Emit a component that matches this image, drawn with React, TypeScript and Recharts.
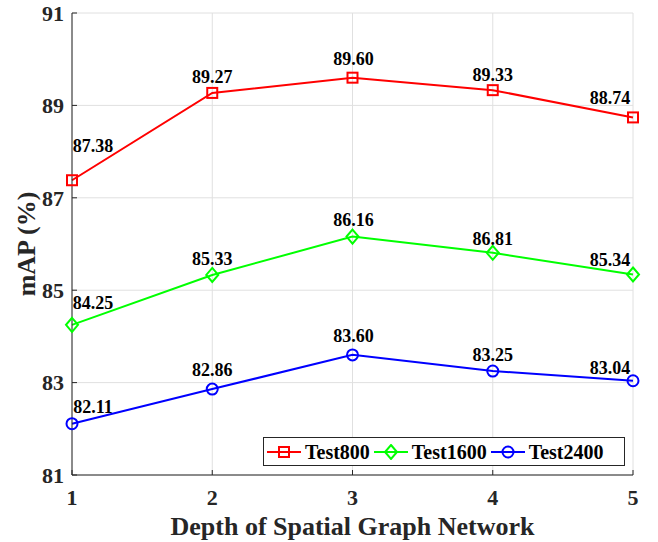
import React from 'react';
import { LineChart, Line, XAxis, YAxis, CartesianGrid, Legend, LabelList, Label } from 'recharts';

const depths = [1, 2, 3, 4, 5];
const test800 = [87.38, 89.27, 89.6, 89.33, 88.74];
const test1600 = [84.25, 85.33, 86.16, 85.81, 85.34];
const test2400 = [82.11, 82.86, 83.6, 83.25, 83.04];
const test800Labels = ['87.38', '89.27', '89.60', '89.33', '88.74'];
const test1600Labels = ['84.25', '85.33', '86.16', '86.81', '85.34'];
const test2400Labels = ['82.11', '82.86', '83.60', '83.25', '83.04'];
const yTicks = [81, 83, 85, 87, 89, 91];
const seriesNames = ['Test800', 'Test1600', 'Test2400'];
const xTitle = 'Depth of Spatial Graph Network';
const yTitle = 'mAP (%)';

const data = depths.map((d, i) => ({
  depth: d,
  t800: test800[i],
  t1600: test1600[i],
  t2400: test2400[i],
}));

const FONT = "'Liberation Serif', 'Times New Roman', serif";
const AXIS = '#262626';
const RED = '#ff0000';
const GREEN = '#00ff00';
const BLUE = '#0000ff';

// label vertical offsets (center relative to point) per series / point
const dy800 = [-34, -16, -19, -15, -19];
const dy1600 = [-22, -16, -17, -14, -14];
const dy2400 = [-17, -19, -19, -16, -13];
const dxByIndex = [21, 0, 1, 0, -23];

const Marker = ({ kind, cx, cy, color }: any) => {
  if (kind === 'square')
    return <rect x={cx - 5} y={cy - 5} width={10} height={10} fill="none" stroke={color} strokeWidth={2} />;
  if (kind === 'diamond')
    return (
      <polygon
        points={`${cx},${cy - 7} ${cx + 6},${cy} ${cx},${cy + 7} ${cx - 6},${cy}`}
        fill="none"
        stroke={color}
        strokeWidth={2}
      />
    );
  return <circle cx={cx} cy={cy} r={5.5} fill="none" stroke={color} strokeWidth={2} />;
};

const makeDot = (kind: string, color: string) => (props: any) => (
  <g key={`dot-${kind}-${props.index}`}>
    <Marker kind={kind} cx={props.cx} cy={props.cy} color={color} />
  </g>
);

const makeLabel = (labels: string[], dys: number[]) => (props: any) => {
  const vb = props.viewBox || {};
  const px = props.x ?? vb.x;
  const py = props.y ?? vb.y;
  const i = props.index;
  if (px == null || py == null) return null;
  return (
    <text
      key={`lbl-${i}-${labels[i]}`}
      x={px + dxByIndex[i]}
      y={py + dys[i] + 6}
      textAnchor="middle"
      fontFamily={FONT}
      fontWeight="bold"
      fontSize={18}
      fill="#000"
    >
      {labels[i]}
    </text>
  );
};

const legendItems = [
  { name: seriesNames[0], color: RED, kind: 'square' },
  { name: seriesNames[1], color: GREEN, kind: 'diamond' },
  { name: seriesNames[2], color: BLUE, kind: 'circle' },
];

const renderLegend = () => (
  <div
    style={{
      boxSizing: 'border-box',
      width: 362,
      height: 29,
      border: `1px solid ${AXIS}`,
      background: '#fff',
      display: 'flex',
      alignItems: 'center',
      paddingLeft: 3,
      fontFamily: FONT,
      fontWeight: 'bold',
      fontSize: 20,
      color: '#000',
    }}
  >
    {legendItems.map((it) => (
      <div key={it.name} style={{ display: 'flex', alignItems: 'center', marginRight: 4 }}>
        <svg width={34} height={16} style={{ display: 'block' }}>
          <line x1={0} y1={8} x2={34} y2={8} stroke={it.color} strokeWidth={2} />
          <Marker kind={it.kind} cx={17} cy={8} color={it.color} />
        </svg>
        <span style={{ marginLeft: 4, lineHeight: '20px' }}>{it.name}</span>
      </div>
    ))}
  </div>
);

const XTitle = (props: any) => {
  const vb = props.viewBox;
  return (
    <text
      x={vb.x + vb.width / 2}
      y={vb.y + vb.height - 7}
      textAnchor="middle"
      fontFamily={FONT}
      fontWeight="bold"
      fontSize={26}
      fill={AXIS}
    >
      {xTitle}
    </text>
  );
};

const YTitle = (props: any) => {
  const vb = props.viewBox;
  const x = vb.x + 35;
  const y = vb.y + vb.height / 2;
  return (
    <text
      x={x}
      y={y}
      transform={`rotate(-90, ${x}, ${y})`}
      textAnchor="middle"
      fontFamily={FONT}
      fontWeight="bold"
      fontSize={26}
      fill={AXIS}
    >
      {yTitle}
    </text>
  );
};

const tickStyle = { fill: AXIS, fontSize: 22, fontWeight: 'bold', fontFamily: FONT };

export default function App() {
  return (
    <div style={{ position: 'absolute', left: 0, top: 0, width: 658, height: 542, background: '#fff' }}>
      <LineChart width={658} height={542} data={data} margin={{ top: 13, right: 25, bottom: 0, left: 0 }}>
        <CartesianGrid xAxisId="b" yAxisId="l" stroke="#e0e0e0" strokeWidth={1} />
        <XAxis
          xAxisId="b"
          dataKey="depth"
          type="number"
          domain={[1, 5]}
          ticks={depths}
          interval={0}
          height={67}
          axisLine={{ stroke: AXIS }}
          tickLine={{ stroke: AXIS }}
          tickSize={-5}
          tickMargin={19}
          tick={tickStyle}
        >
          <Label content={XTitle} />
        </XAxis>
        <XAxis
          xAxisId="t"
          orientation="top"
          dataKey="depth"
          type="number"
          domain={[1, 5]}
          ticks={depths}
          interval={0}
          height={0}
          axisLine={{ stroke: AXIS }}
          tickLine={{ stroke: AXIS }}
          tickSize={-5}
          tick={false}
        />
        <YAxis
          yAxisId="l"
          type="number"
          domain={[81, 91]}
          ticks={yTicks}
          interval={0}
          width={72}
          axisLine={{ stroke: AXIS }}
          tickLine={{ stroke: AXIS }}
          tickSize={-5}
          tickMargin={13}
          tick={tickStyle}
        >
          <Label content={YTitle} />
        </YAxis>
        <YAxis
          yAxisId="r"
          orientation="right"
          type="number"
          domain={[81, 91]}
          ticks={yTicks}
          interval={0}
          width={0}
          axisLine={{ stroke: AXIS }}
          tickLine={{ stroke: AXIS }}
          tickSize={-5}
          tick={false}
        />
        <Line
          xAxisId="b"
          yAxisId="l"
          dataKey="t800"
          name={seriesNames[0]}
          stroke={RED}
          strokeWidth={2}
          dot={makeDot('square', RED)}
          isAnimationActive={false}
        >
          <LabelList dataKey="t800" content={makeLabel(test800Labels, dy800)} />
        </Line>
        <Line
          xAxisId="b"
          yAxisId="l"
          dataKey="t1600"
          name={seriesNames[1]}
          stroke={GREEN}
          strokeWidth={2}
          dot={makeDot('diamond', GREEN)}
          isAnimationActive={false}
        >
          <LabelList dataKey="t1600" content={makeLabel(test1600Labels, dy1600)} />
        </Line>
        <Line
          xAxisId="b"
          yAxisId="l"
          dataKey="t2400"
          name={seriesNames[2]}
          stroke={BLUE}
          strokeWidth={2}
          dot={makeDot('circle', BLUE)}
          isAnimationActive={false}
        >
          <LabelList dataKey="t2400" content={makeLabel(test2400Labels, dy2400)} />
        </Line>
        <Legend
          layout="horizontal"
          verticalAlign="middle"
          align="center"
          content={renderLegend}
          wrapperStyle={{ left: 263, top: 437, width: 362, height: 29 }}
        />
      </LineChart>
    </div>
  );
}
